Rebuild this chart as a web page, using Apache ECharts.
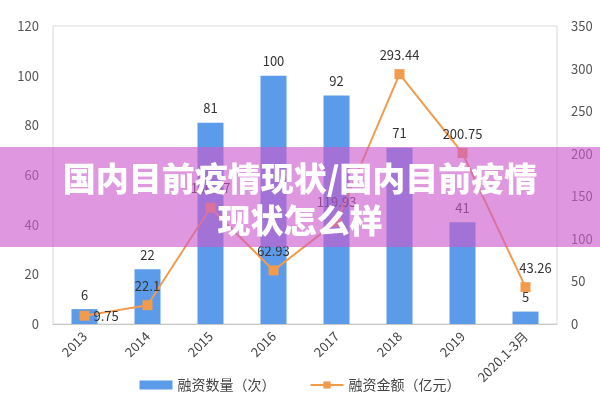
<!DOCTYPE html>
<html>
<head>
<meta charset="utf-8">
<script src="https://cdn.jsdelivr.net/npm/echarts@6/dist/echarts.min.js"></script>
<style>
  html, body { margin: 0; padding: 0; background: #fff; }
  #chart { width: 600px; height: 400px; }
</style>
</head>
<body>
<div id="chart"></div>
<script>
// 数据
var years = ['2013', '2014', '2015', '2016', '2017', '2018', '2019', '2020.1-3月'];
var countData = [6, 22, 81, 100, 92, 71, 41, 5];
var amountData = [9.75, 22.1, 136.47, 62.93, 119.93, 293.44, 200.75, 43.26];
var countName = '融资数量（次）';
var amountName = '融资金额（亿元）';
var bannerTitle = ['国内目前疫情现状/国内目前疫情', '现状怎么样'];

var chart = echarts.init(document.getElementById('chart'));

var fontFamily = '"Noto Sans CJK SC", "Noto Sans", sans-serif';
var barColor = '#5b9bea';
var lineColor = '#f39b4c';

// 2013 标签放右侧, 2020 稍微右移
var amountSeriesData = amountData.map(function (v, i) {
    if (i === 0) return { value: v, label: { position: 'right', distance: 4 } };
    if (i === 7) return { value: v, label: { position: 'top', offset: [10, 0] } };
    return v;
});

var option = {
    animation: false,
    textStyle: { fontFamily: fontFamily },
    grid: {
        left: 53,
        right: 43,
        top: 26,
        bottom: 76,
        show: true,
        borderColor: '#d9d9d9',
        borderWidth: 1
    },
    legend: {
        bottom: 3,
        left: 'center',
        itemGap: 34,
        itemWidth: 33,
        itemHeight: 9,
        textStyle: { color: '#444', fontSize: 14 },
        data: [
            { name: countName, icon: 'rect' },
            { name: amountName }
        ]
    },
    xAxis: {
        type: 'category',
        data: years,
        axisLine: { lineStyle: { color: '#c8c8c8' } },
        axisTick: { show: false },
        axisLabel: { rotate: 45, color: '#444', fontSize: 13, margin: 10, interval: 0 }
    },
    yAxis: [
        {
            type: 'value',
            min: 0,
            max: 120,
            interval: 20,
            splitLine: { show: false },
            axisLine: { show: false },
            axisTick: { show: false },
            axisLabel: { color: '#555', fontSize: 13, margin: 14 }
        },
        {
            type: 'value',
            min: 0,
            max: 350,
            interval: 50,
            splitLine: { show: false },
            axisLine: { show: false },
            axisTick: { show: false },
            axisLabel: { color: '#555', fontSize: 13, margin: 14 }
        }
    ],
    series: [
        {
            name: countName,
            type: 'bar',
            data: countData,
            barWidth: 26,
            itemStyle: { color: barColor },
            label: { show: true, position: 'top', color: '#333', fontSize: 13, distance: 8 }
        },
        {
            name: amountName,
            type: 'line',
            yAxisIndex: 1,
            data: amountSeriesData,
            symbol: 'rect',
            symbolSize: 10,
            itemStyle: { color: lineColor },
            lineStyle: { color: lineColor, width: 2 },
            label: { show: true, position: 'top', color: '#333', fontSize: 13, distance: 8 },
            z: 5
        }
    ],
    graphic: [
        {
            type: 'rect',
            left: 0,
            top: 147,
            z: 100,
            shape: { width: 600, height: 100 },
            style: { fill: 'rgba(205,90,205,0.63)' }
        },
        {
            type: 'text',
            left: 'center',
            top: 157,
            z: 101,
            style: {
                text: bannerTitle.join('\n'),
                fill: '#fff',
                font: '900 33px "Noto Sans CJK SC", sans-serif',
                lineHeight: 42,
                textAlign: 'center'
            }
        }
    ]
};

chart.setOption(option);
</script>
</body>
</html>
